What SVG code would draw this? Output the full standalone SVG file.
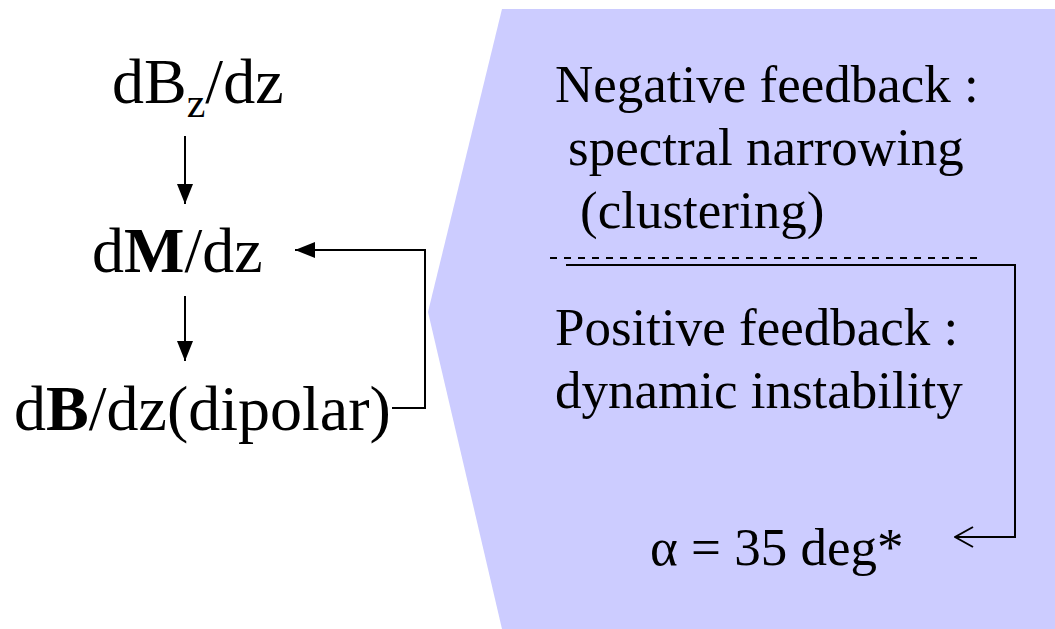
<svg xmlns="http://www.w3.org/2000/svg" width="1055" height="629" viewBox="0 0 1055 629">
<style>
.l{font-family:'Liberation Serif','Times New Roman','DejaVu Serif',Times,serif;font-size:64px;fill:#000}
.r{font-family:'Liberation Serif','Times New Roman','DejaVu Serif',Times,serif;font-size:53px;fill:#000}
.c{fill:none;stroke:#000;stroke-width:2}
</style>
<defs>
<marker id="fa" markerWidth="20" markerHeight="16" refX="20" refY="8" orient="auto" markerUnits="userSpaceOnUse">
<path d="M0,0 L20,8 L0,16 Z" fill="#000"/>
</marker>
<marker id="oa" markerWidth="20" markerHeight="22" refX="19" refY="11" orient="auto" markerUnits="userSpaceOnUse">
<path d="M1,1 L19,11 L1,21" fill="none" stroke="#000" stroke-width="2"/>
</marker>
</defs>
<g id="panel">
<polygon points="502,9 1055,9 1055,629 502,629 428,312" fill="#CCCCFF"/>
<line x1="550" y1="258" x2="978" y2="258" stroke="#000" stroke-width="2" stroke-dasharray="7,7"/>
</g>
<g id="node-dBz"><text class="l" x="112" y="103">dB<tspan font-size="42" dy="14">z</tspan><tspan dy="-14">/dz</tspan></text></g>
<g id="node-dM"><text class="l" x="92" y="272">d<tspan font-weight="bold">M</tspan>/dz</text></g>
<g id="node-dB"><text class="l" x="14" y="430">d<tspan font-weight="bold">B</tspan>/dz(dipolar)</text></g>
<g id="node-negative"><text class="r"><tspan x="555" y="102">Negative feedback :</tspan><tspan x="568" y="165">spectral narrowing</tspan><tspan x="580" y="228">(clustering)</tspan></text></g>
<g id="node-positive"><text class="r"><tspan x="555" y="345">Positive feedback :</tspan><tspan x="555" y="408">dynamic instability</tspan></text></g>
<g id="node-alpha"><text class="r" x="650" y="565">α = 35 deg*</text></g>
<g id="connectors">
<line class="c" x1="185" y1="136" x2="185" y2="204" marker-end="url(#fa)"/>
<line class="c" x1="185" y1="296" x2="185" y2="361" marker-end="url(#fa)"/>
<polyline class="c" points="392,408 425,408 425,250 295,250" marker-end="url(#fa)"/>
<polyline class="c" points="566,265 1015,265 1015,537 955,537" marker-end="url(#oa)"/>
</g>
</svg>
